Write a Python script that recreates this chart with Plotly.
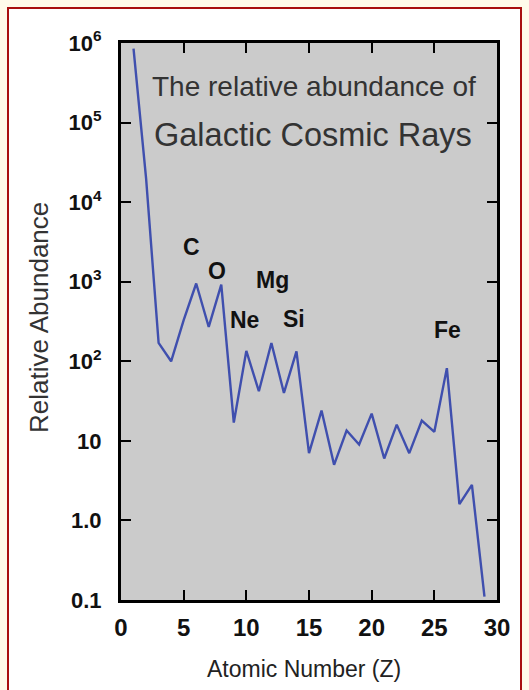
import plotly.graph_objects as go

# ---- data ----
atomic_number = list(range(1, 30))
abundance = [8.5e5, 2.0e4, 170, 100, 330, 950, 270, 920, 17, 135,
             42, 170, 40, 133, 7.0, 24, 5.0, 13.5, 9.0, 22,
             6.0, 16, 7.0, 18, 13, 82, 1.6, 2.8, 0.11]

element_labels = ["C", "O", "Mg", "Ne", "Si", "Fe"]
label_x = [5.65, 7.67, 12.06, 9.89, 13.80, 26.04]
label_logy = [3.434, 3.131, 3.022, 2.519, 2.529, 2.393]

x_tickvals = [0, 5, 10, 15, 20, 25, 30]
y_tickvals = [0.1, 1, 10, 100, 1e3, 1e4, 1e5, 1e6]
y_ticktext = ["0.1", "1.0", "10", "10<sup>2</sup>", "10<sup>3</sup>",
              "10<sup>4</sup>", "10<sup>5</sup>", "10<sup>6</sup>"]

title_lines = ["The relative abundance of", "Galactic Cosmic Rays"]

FONT = "Liberation Sans, Arial, sans-serif"

fig = go.Figure()
fig.add_trace(go.Scatter(
    x=atomic_number, y=abundance, mode="lines",
    line=dict(color="#3f4fae", width=2.4),
    hoverinfo="skip", showlegend=False,
))

L, R, T, B = 121, 32, 43, 90
W, H = 529, 690
pw, ph = W - L - R, H - T - B

def px_x(px):
    return (px - L) / pw

def px_y(py):
    return (H - B - py) / ph

shapes = [
    # white inner frame with dark red border
    dict(type="rect", xref="paper", yref="paper",
         x0=px_x(8), x1=px_x(521), y0=px_y(720), y1=px_y(8),
         fillcolor="white", line=dict(color="#a81010", width=2), layer="below"),
    # gray plotting area
    dict(type="rect", xref="paper", yref="paper", x0=0, x1=1, y0=0, y1=1,
         fillcolor="#cbcbcb", line=dict(width=0), layer="below"),
]

annotations = []
for t, x, y in zip(element_labels, label_x, label_logy):
    annotations.append(dict(x=x, y=y, xref="x", yref="y", text=t, showarrow=False,
                            font=dict(family=FONT, size=23, color="#111111", weight="bold"),
                            xanchor="center", yanchor="middle"))

annotations.append(dict(x=px_x(314), y=px_y(86.5), xref="paper", yref="paper",
                        text=title_lines[0], showarrow=False,
                        font=dict(family=FONT, size=28, color="#333333"),
                        xanchor="center", yanchor="middle"))
annotations.append(dict(x=px_x(313), y=px_y(135), xref="paper", yref="paper",
                        text=title_lines[1], showarrow=False,
                        font=dict(family=FONT, size=32.5, color="#333333"),
                        xanchor="center", yanchor="middle"))
annotations.append(dict(x=px_x(304), y=px_y(669), xref="paper", yref="paper",
                        text="Atomic Number (Z)", showarrow=False,
                        font=dict(family=FONT, size=23, color="#222222"),
                        xanchor="center", yanchor="middle"))
annotations.append(dict(x=px_x(39), y=px_y(318), xref="paper", yref="paper",
                        text="Relative Abundance", showarrow=False, textangle=-90,
                        font=dict(family=FONT, size=26, color="#333333"),
                        xanchor="center", yanchor="middle"))

fig.update_layout(
    width=W, height=H,
    margin=dict(l=L, r=R, t=T, b=B, pad=0, autoexpand=False),
    paper_bgcolor="#fffbea",
    plot_bgcolor="rgba(0,0,0,0)",
    shapes=shapes,
    annotations=annotations,
    showlegend=False,
    xaxis=dict(range=[0, 30], tickvals=x_tickvals, showgrid=False, zeroline=False,
               showline=True, linecolor="black", linewidth=3, mirror="ticks",
               ticks="inside", ticklen=10, tickwidth=2, tickcolor="black",
               tickfont=dict(family=FONT, size=24, color="#111111", weight="bold"),
               ticklabelstandoff=4, automargin=False),
    yaxis=dict(type="log", range=[-1, 6], tickvals=y_tickvals, ticktext=y_ticktext,
               showgrid=False, zeroline=False,
               showline=True, linecolor="black", linewidth=3, mirror="ticks",
               ticks="inside", ticklen=10, tickwidth=2, tickcolor="black",
               tickfont=dict(family=FONT, size=22, color="#111111", weight="bold"),
               ticklabelstandoff=12, automargin=False),
)

fig.write_html(
    "out.html",
    config={"displayModeBar": False, "staticPlot": True},
    post_script="document.body.style.margin='0';document.body.style.padding='0';"
                "document.body.style.background='#fffbea';"
                "document.body.style.overflow='hidden';",
)
